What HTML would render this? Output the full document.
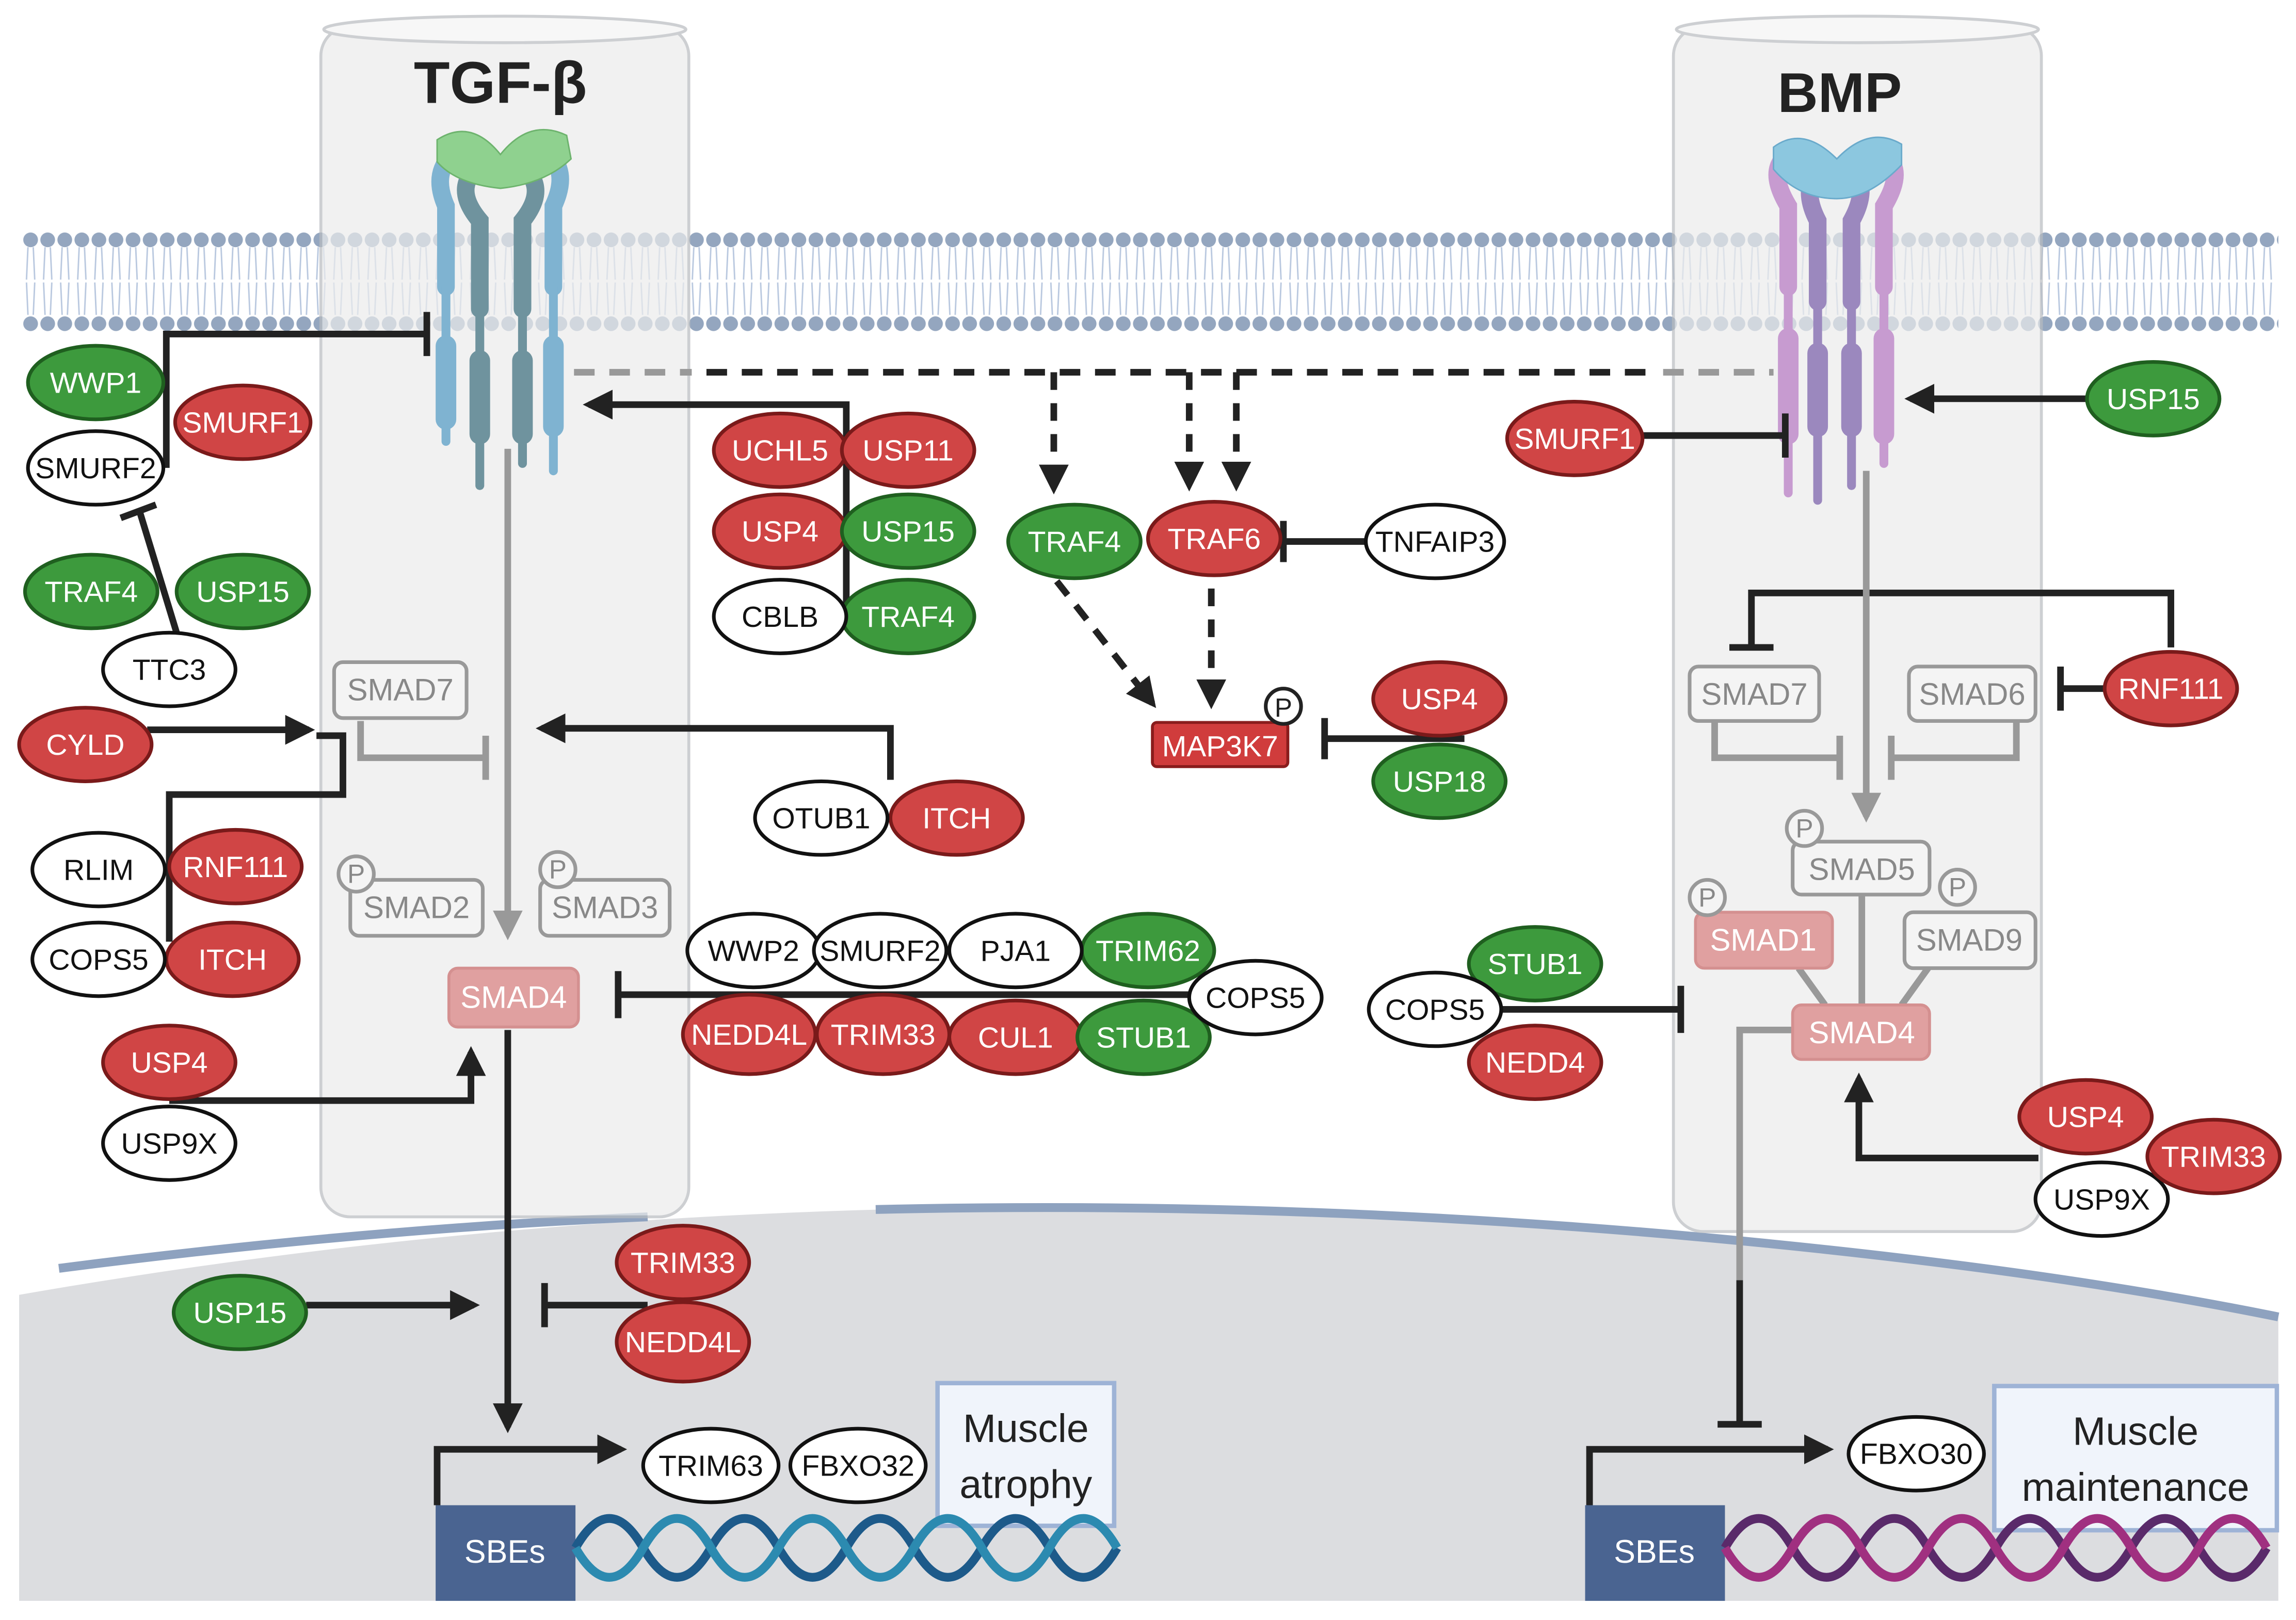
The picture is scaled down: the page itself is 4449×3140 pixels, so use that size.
<!DOCTYPE html>
<html><head><meta charset="utf-8">
<style>
html,body{margin:0;padding:0;background:#fff;}
svg{display:block;}
text{font-family:"Liberation Sans",sans-serif;}
</style></head>
<body>
<svg xmlns="http://www.w3.org/2000/svg" width="4449" height="3140" viewBox="0 0 1560 1101">
<defs>
<marker id="a" viewBox="0 0 10 10" refX="8" refY="5" markerWidth="4.5" markerHeight="4.5" orient="auto"><path d="M0,0L10,5L0,10z" fill="#222"/></marker>
<marker id="ag" viewBox="0 0 10 10" refX="8" refY="5" markerWidth="4.5" markerHeight="4.5" orient="auto"><path d="M0,0L10,5L0,10z" fill="#999"/></marker>
<pattern id="dot" x="15" y="157" width="11.6" height="12" patternUnits="userSpaceOnUse">
<circle cx="5.8" cy="6" r="5" fill="#94a6bf"/>
</pattern>
<pattern id="dot2" x="15" y="214" width="11.6" height="12" patternUnits="userSpaceOnUse">
<circle cx="5.8" cy="6" r="5" fill="#94a6bf"/>
</pattern>
<pattern id="tail" x="15" y="168" width="11.6" height="46" patternUnits="userSpaceOnUse">
<path d="M4,0 L3,22 M7.6,0 L8.6,22 M4,46 L3,24 M7.6,46 L8.6,24" stroke="#b9c8df" stroke-width="1" fill="none"/>
</pattern>
</defs>
<rect width="1560" height="1101" fill="#fff"/>

<!-- nucleus -->
<path d="M13,880 Q300,830 600,822 Q900,815 1200,845 Q1400,865 1548,895 L1548,1088 L13,1088 Z" fill="#dcdde0"/>
<path d="M40,862 Q250,835 440,827" stroke="#8ea2bf" stroke-width="6" fill="none"/>
<path d="M595,822 Q900,815 1200,845 Q1400,865 1548,895" stroke="#8ea2bf" stroke-width="6" fill="none"/>

<!-- membrane -->
<rect x="15" y="168" width="1533" height="46" fill="url(#tail)"/>
<rect x="15" y="157" width="1533" height="12" fill="url(#dot)"/>
<rect x="15" y="214" width="1533" height="12" fill="url(#dot2)"/>

<!-- cylinders -->
<g opacity="0.7">
<rect x="218" y="18" width="250" height="809" rx="20" fill="#ececec" stroke="#b8bcc0" stroke-width="2"/>
<ellipse cx="343" cy="20" rx="123" ry="9" fill="#f4f4f4" stroke="#b8bcc0" stroke-width="2"/>
<rect x="1137" y="18" width="250" height="819" rx="20" fill="#ececec" stroke="#b8bcc0" stroke-width="2"/>
<ellipse cx="1262" cy="20" rx="123" ry="9" fill="#f4f4f4" stroke="#b8bcc0" stroke-width="2"/>
</g>

<text x="340" y="70" font-size="40" font-weight="bold" text-anchor="middle" fill="#222">TGF-β</text>
<text x="1250" y="76" font-size="38" font-weight="bold" text-anchor="middle" fill="#222">BMP</text>

<!-- TGF receptor -->
<g stroke-linecap="round" fill="none">
<path d="M303,195 L303,140 Q290,110 320,98" stroke="#7fb3d1" stroke-width="12"/>
<path d="M376,195 L376,140 Q390,110 362,98" stroke="#7fb3d1" stroke-width="12"/>
<path d="M326,210 L326,150 Q305,125 330,110" stroke="#6f939e" stroke-width="12"/>
<path d="M355,210 L355,150 Q375,125 350,110" stroke="#6f939e" stroke-width="12"/>
<path d="M303,195 L303,300" stroke="#7fb3d1" stroke-width="6"/>
<path d="M376,195 L376,320" stroke="#7fb3d1" stroke-width="6"/>
<path d="M326,210 L326,330" stroke="#6f939e" stroke-width="6"/>
<path d="M355,210 L355,315" stroke="#6f939e" stroke-width="6"/>
<path d="M303,235 L303,285 M376,235 L376,290" stroke="#7fb3d1" stroke-width="14"/>
<path d="M326,245 L326,295 M355,245 L355,295" stroke="#6f939e" stroke-width="14"/>
</g>
<path d="M297,95 Q320,80 340,105 Q360,80 385,92 L388,108 Q370,125 340,128 Q310,125 297,110 Z" fill="#8fd18f" stroke="#6db36d"/>

<!-- BMP receptor -->
<g stroke-linecap="round" fill="none">
<path d="M1215,195 L1215,140 Q1200,115 1215,105" stroke="#c79bd0" stroke-width="12"/>
<path d="M1280,195 L1280,140 Q1295,115 1280,105" stroke="#c79bd0" stroke-width="12"/>
<path d="M1235,205 L1235,150 Q1222,125 1240,110" stroke="#9b88be" stroke-width="12"/>
<path d="M1258,205 L1258,150 Q1272,125 1255,110" stroke="#9b88be" stroke-width="12"/>
<path d="M1215,195 L1215,335 M1280,195 L1280,315" stroke="#c79bd0" stroke-width="6"/>
<path d="M1235,205 L1235,340 M1258,205 L1258,330" stroke="#9b88be" stroke-width="6"/>
<path d="M1215,230 L1215,295 M1280,230 L1280,295" stroke="#c79bd0" stroke-width="14"/>
<path d="M1235,240 L1235,290 M1258,240 L1258,290" stroke="#9b88be" stroke-width="14"/>
</g>
<path d="M1205,100 Q1225,85 1248,108 Q1270,85 1292,98 L1292,112 Q1270,135 1248,135 Q1222,135 1205,115 Z" fill="#8cc7df" stroke="#6aaacb"/>

<!-- connectors -->
<g stroke="#222" stroke-width="4.5" fill="none">
<path d="M390,253 L470,253 M1130,253 L1205,253" stroke="#999" stroke-dasharray="14 10"/>
<path d="M480,253 L1125,253" stroke-dasharray="14 10"/>
<path d="M716,253 L716,332" stroke-dasharray="12 9" marker-end="url(#a)"/>
<path d="M808,253 L808,330" stroke-dasharray="12 9" marker-end="url(#a)"/>
<path d="M840,253 L840,330" stroke-dasharray="12 9" marker-end="url(#a)"/>
<path d="M718,395 L783,478" stroke-dasharray="12 9" marker-end="url(#a)"/>
<path d="M823,400 L823,478" stroke-dasharray="12 9" marker-end="url(#a)"/>
<path d="M930,368 L872,368 M872,354 L872,382"/>
<path d="M995,502 L900,502 M900,488 L900,516"/>
<path d="M113,318 L113,227 L290,227 M290,212 L290,242"/>
<path d="M120,430 L95,348 M82,352 L106,343"/>
<path d="M575,420 L575,275 L400,275" marker-end="url(#a)"/>
<path d="M100,496 L210,496" marker-end="url(#a)"/>
<path d="M115,640 L115,540 L233,540 L233,500 L215,500"/>
<path d="M605,530 L605,495 L368,495" marker-end="url(#a)"/>
<path d="M115,748 L320,748 L320,715" marker-end="url(#a)"/>
<path d="M810,676 L420,676 M420,660 L420,692"/>
<path d="M345,700 L345,970" marker-end="url(#a)"/>
<path d="M208,887 L322,887" marker-end="url(#a)"/>
<path d="M440,887 L370,887 M370,872 L370,902"/>
<path d="M297,1023 L297,985 L422,985" marker-end="url(#a)"/>
<path d="M1418,271 L1298,271" marker-end="url(#a)"/>
<path d="M1115,296 L1213,296 M1213,281 L1213,311"/>
<path d="M1190,440 L1190,403 L1475,403 L1475,440 M1175,440 L1205,440"/>
<path d="M1430,468 L1400,468 M1400,453 L1400,483"/>
<path d="M1020,686 L1142,686 M1142,670 L1142,702"/>
<path d="M1385,787 L1263,787 L1263,733" marker-end="url(#a)"/>
<path d="M1182,870 L1182,968 M1167,968 L1197,968"/>
<path d="M1080,1023 L1080,985 L1242,985" marker-end="url(#a)"/>
</g>
<g stroke="#999" stroke-width="4.5" fill="none">
<path d="M345,305 L345,635" marker-end="url(#ag)"/>
<path d="M245,490 L245,515 L330,515 M330,500 L330,530"/>
<path d="M1268,320 L1268,555" marker-end="url(#ag)"/>
<path d="M1165,490 L1165,515 L1250,515 M1250,500 L1250,530"/>
<path d="M1370,490 L1370,515 L1285,515 M1285,500 L1285,530"/>
<path d="M1265,608 L1265,683 M1222,658 L1240,683 M1310,658 L1292,683"/>
<path d="M1218,700 L1182,700 L1182,870"/>
</g>

<!-- SMAD boxes -->
<g font-size="21" text-anchor="middle">
<rect x="227" y="450" width="90" height="38" rx="6" fill="#f4f4f4" stroke="#999" stroke-width="2.5"/><text x="272" y="476" fill="#888">SMAD7</text>
<rect x="238" y="598" width="90" height="38" rx="6" fill="#f4f4f4" stroke="#999" stroke-width="2.5"/><text x="283" y="624" fill="#888">SMAD2</text>
<rect x="367" y="598" width="88" height="38" rx="6" fill="#f4f4f4" stroke="#999" stroke-width="2.5"/><text x="411" y="624" fill="#888">SMAD3</text>
<rect x="305" y="658" width="88" height="40" rx="6" fill="#e0a0a0" stroke="#d49090" stroke-width="2"/><text x="349" y="685" fill="#fff">SMAD4</text>
<rect x="1148" y="453" width="88" height="37" rx="6" fill="#f4f4f4" stroke="#999" stroke-width="2.5"/><text x="1192" y="479" fill="#888">SMAD7</text>
<rect x="1297" y="453" width="86" height="37" rx="6" fill="#f4f4f4" stroke="#999" stroke-width="2.5"/><text x="1340" y="479" fill="#888">SMAD6</text>
<rect x="1218" y="572" width="93" height="36" rx="6" fill="#f4f4f4" stroke="#999" stroke-width="2.5"/><text x="1265" y="598" fill="#888">SMAD5</text>
<rect x="1152" y="620" width="93" height="38" rx="6" fill="#e0a0a0" stroke="#d49090" stroke-width="2"/><text x="1198" y="646" fill="#fff">SMAD1</text>
<rect x="1294" y="620" width="89" height="38" rx="6" fill="#f4f4f4" stroke="#999" stroke-width="2.5"/><text x="1338" y="646" fill="#888">SMAD9</text>
<rect x="1218" y="683" width="93" height="37" rx="6" fill="#e0a0a0" stroke="#d49090" stroke-width="2"/><text x="1265" y="709" fill="#fff">SMAD4</text>
</g>
<g fill="#f4f4f4" stroke="#999" stroke-width="2.5">
<circle cx="242" cy="594" r="12"/><circle cx="379" cy="591" r="12"/>
<circle cx="1226" cy="563" r="12"/><circle cx="1160" cy="610" r="12"/><circle cx="1330" cy="603" r="12"/>
</g>
<g font-size="18" text-anchor="middle" fill="#888">
<text x="242" y="600">P</text><text x="379" y="597">P</text><text x="1226" y="569">P</text><text x="1160" y="616">P</text><text x="1330" y="609">P</text>
</g>

<!-- MAP3K7 -->
<rect x="783" y="491" width="92" height="30" rx="3" fill="#d03c3c" stroke="#8a1c1c" stroke-width="2"/>
<text x="829" y="514" font-size="20" text-anchor="middle" fill="#fff">MAP3K7</text>
<circle cx="872" cy="480" r="12" fill="#fff" stroke="#222" stroke-width="2.5"/>
<text x="872" y="487" font-size="18" text-anchor="middle" fill="#222">P</text>

<!-- ellipses -->
<g font-size="20" text-anchor="middle" stroke-width="2.5">
<g fill="#d04545" stroke="#7a1a1a">
<ellipse cx="165" cy="287" rx="46" ry="25"/><ellipse cx="58" cy="506" rx="45" ry="25"/><ellipse cx="160" cy="589" rx="45" ry="25"/><ellipse cx="158" cy="652" rx="45" ry="25"/><ellipse cx="115" cy="722" rx="45" ry="25"/>
<ellipse cx="530" cy="306" rx="45" ry="25"/><ellipse cx="617" cy="306" rx="45" ry="25"/><ellipse cx="530" cy="361" rx="45" ry="25"/>
<ellipse cx="650" cy="556" rx="45" ry="25"/>
<ellipse cx="509" cy="703" rx="45" ry="27"/><ellipse cx="600" cy="703" rx="45" ry="27"/><ellipse cx="690" cy="705" rx="45" ry="25"/>
<ellipse cx="825" cy="366" rx="45" ry="25"/><ellipse cx="978" cy="475" rx="45" ry="25"/>
<ellipse cx="464" cy="858" rx="45" ry="25"/><ellipse cx="464" cy="912" rx="45" ry="27"/>
<ellipse cx="1070" cy="298" rx="46" ry="25"/><ellipse cx="1475" cy="468" rx="45" ry="25"/><ellipse cx="1043" cy="722" rx="45" ry="25"/>
<ellipse cx="1428" cy="815" rx="45" ry="25" fill="#fff" stroke="#111"/>
<ellipse cx="1417" cy="759" rx="45" ry="25"/><ellipse cx="1504" cy="786" rx="45" ry="25"/>
</g>
<g fill="#3d9a3d" stroke="#1f5f1f">
<ellipse cx="65" cy="260" rx="46" ry="25"/><ellipse cx="62" cy="402" rx="45" ry="25"/><ellipse cx="165" cy="402" rx="45" ry="25"/>
<ellipse cx="617" cy="361" rx="45" ry="25"/><ellipse cx="617" cy="419" rx="45" ry="25"/>
<ellipse cx="780" cy="646" rx="45" ry="25"/><ellipse cx="777" cy="705" rx="45" ry="25"/>
<ellipse cx="730" cy="368" rx="45" ry="25"/><ellipse cx="978" cy="531" rx="45" ry="25"/>
<ellipse cx="163" cy="892" rx="45" ry="25"/><ellipse cx="1463" cy="271" rx="45" ry="25"/><ellipse cx="1043" cy="655" rx="45" ry="25"/>
</g>
<g fill="#fff" stroke="#111">
<ellipse cx="65" cy="318" rx="46" ry="25"/><ellipse cx="115" cy="455" rx="45" ry="25"/><ellipse cx="67" cy="591" rx="45" ry="25"/><ellipse cx="67" cy="652" rx="45" ry="25"/><ellipse cx="115" cy="777" rx="45" ry="25"/>
<ellipse cx="530" cy="419" rx="45" ry="25"/><ellipse cx="558" cy="556" rx="45" ry="25"/>
<ellipse cx="512" cy="646" rx="45" ry="25"/><ellipse cx="598" cy="646" rx="45" ry="25"/><ellipse cx="690" cy="646" rx="45" ry="25"/><ellipse cx="853" cy="678" rx="45" ry="25"/>
<ellipse cx="975" cy="368" rx="47" ry="25"/>
<ellipse cx="483" cy="996" rx="46" ry="25"/><ellipse cx="583" cy="996" rx="46" ry="25"/>
<ellipse cx="975" cy="686" rx="45" ry="25"/><ellipse cx="1302" cy="988" rx="46" ry="25"/>
</g>
<g fill="#fff" stroke="none">
<text x="165" y="294">SMURF1</text><text x="58" y="513">CYLD</text><text x="160" y="596">RNF111</text><text x="158" y="659">ITCH</text><text x="115" y="729">USP4</text>
<text x="530" y="313">UCHL5</text><text x="617" y="313">USP11</text><text x="530" y="368">USP4</text>
<text x="650" y="563">ITCH</text><text x="509" y="710">NEDD4L</text><text x="600" y="710">TRIM33</text><text x="690" y="712">CUL1</text>
<text x="825" y="373">TRAF6</text><text x="978" y="482">USP4</text><text x="464" y="865">TRIM33</text><text x="464" y="919">NEDD4L</text>
<text x="1070" y="305">SMURF1</text><text x="1475" y="475">RNF111</text><text x="1043" y="729">NEDD4</text>
<text x="1417" y="766">USP4</text><text x="1504" y="793">TRIM33</text>
<text x="65" y="267">WWP1</text><text x="62" y="409">TRAF4</text><text x="165" y="409">USP15</text>
<text x="617" y="368">USP15</text><text x="617" y="426">TRAF4</text><text x="780" y="653">TRIM62</text><text x="777" y="712">STUB1</text>
<text x="730" y="375">TRAF4</text><text x="978" y="538">USP18</text><text x="163" y="899">USP15</text><text x="1463" y="278">USP15</text><text x="1043" y="662">STUB1</text>
</g>
<g fill="#111" stroke="none">
<text x="65" y="325">SMURF2</text><text x="115" y="462">TTC3</text><text x="67" y="598">RLIM</text><text x="67" y="659">COPS5</text><text x="115" y="784">USP9X</text>
<text x="530" y="426">CBLB</text><text x="558" y="563">OTUB1</text><text x="512" y="653">WWP2</text><text x="598" y="653">SMURF2</text><text x="690" y="653">PJA1</text><text x="853" y="685">COPS5</text>
<text x="975" y="375">TNFAIP3</text><text x="483" y="1003">TRIM63</text><text x="583" y="1003">FBXO32</text>
<text x="975" y="693">COPS5</text><text x="1302" y="995">FBXO30</text><text x="1428" y="822">USP9X</text>
</g>
</g>

<!-- outcome boxes -->
<rect x="637" y="940" width="120" height="97" fill="#f0f4fb" stroke="#9eb3d6" stroke-width="3"/>
<text x="697" y="980" font-size="27" text-anchor="middle" fill="#222">Muscle</text>
<text x="697" y="1018" font-size="27" text-anchor="middle" fill="#222">atrophy</text>
<rect x="1355" y="942" width="192" height="98" fill="#f0f4fb" stroke="#9eb3d6" stroke-width="3"/>
<text x="1451" y="982" font-size="27" text-anchor="middle" fill="#222">Muscle</text>
<text x="1451" y="1020" font-size="27" text-anchor="middle" fill="#222">maintenance</text>

<!-- SBEs and DNA -->
<rect x="296" y="1023" width="95" height="65" fill="#4a6491"/>
<text x="343" y="1062" font-size="22" text-anchor="middle" fill="#fff">SBEs</text>
<rect x="1077" y="1023" width="95" height="65" fill="#4a6491"/>
<text x="1124" y="1062" font-size="22" text-anchor="middle" fill="#fff">SBEs</text>
<g fill="none" stroke-width="6">
<path d="M391,1052 q23,-40 46,0 t46,0 t46,0 t46,0 t46,0 t46,0 t46,0 t46,0" stroke="#1d5a8a"/>
<path d="M391,1052 q23,40 46,0 t46,0 t46,0 t46,0 t46,0 t46,0 t46,0 t46,0" stroke="#2c8ab0"/>
<path d="M1172,1052 q23,-40 46,0 t46,0 t46,0 t46,0 t46,0 t46,0 t46,0 t46,0" stroke="#5a2a6a"/>
<path d="M1172,1052 q23,40 46,0 t46,0 t46,0 t46,0 t46,0 t46,0 t46,0 t46,0" stroke="#a03080"/>
</g>
</svg>
</body></html>
